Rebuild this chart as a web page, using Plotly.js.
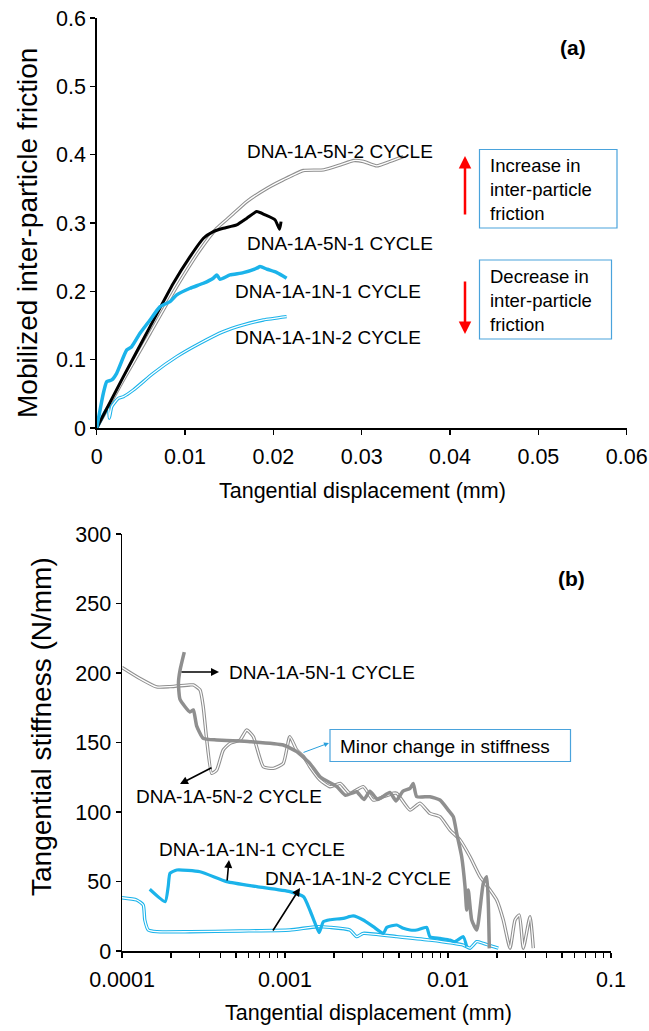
<!DOCTYPE html>
<html>
<head>
<meta charset="utf-8">
<script src="https://cdn.plot.ly/plotly-3.0.1.min.js"></script>
<style>html,body{margin:0;padding:0;background:#fff;}#chart{width:649px;height:1031px;}</style>
</head>
<body>
<div id="chart"></div>
<script>
// ---------- (a) Mobilized inter-particle friction vs tangential displacement ----------
const a5N2_x = [0, 0.00302, 0.00604, 0.00906, 0.0117, 0.0136, 0.0151, 0.0170, 0.0193, 0.0211, 0.0234, 0.0257, 0.0276, 0.0291, 0.0302, 0.0317, 0.0332, 0.0347];
const a5N2_y = [0, 0.0703, 0.1386, 0.2069, 0.2606, 0.2923, 0.3094, 0.3314, 0.3509, 0.3631, 0.3768, 0.3777, 0.3851, 0.3914, 0.390, 0.3836, 0.390, 0.3972];

const a5N1_x = [0, 0.00302, 0.00604, 0.00868, 0.01057, 0.01208, 0.0132, 0.01434, 0.01585, 0.0170, 0.01812, 0.01906, 0.0202, 0.0207, 0.02087];
const a5N1_y = [0, 0.0751, 0.1483, 0.2118, 0.2508, 0.2777, 0.2875, 0.2923, 0.2972, 0.307, 0.3167, 0.3119, 0.3045, 0.2909, 0.302];

const a1N1_x = [0, 0.00075, 0.00113, 0.0017, 0.00226, 0.0034, 0.00396, 0.0049, 0.00604, 0.00717, 0.0083, 0.00906, 0.01057, 0.01208, 0.0132, 0.0136, 0.01396, 0.0151, 0.0166, 0.01812, 0.0185, 0.0193, 0.0204, 0.0215];
const a1N1_y = [0, 0.0508, 0.0678, 0.0703, 0.0801, 0.1142, 0.119, 0.1386, 0.1581, 0.1776, 0.1849, 0.1947, 0.2045, 0.2118, 0.2192, 0.224, 0.2177, 0.224, 0.2274, 0.2338, 0.2362, 0.2323, 0.2274, 0.2192];

const a1N2_x = [0, 0.00132, 0.00143, 0.0017, 0.00245, 0.00302, 0.00415, 0.00641, 0.00906, 0.0117, 0.01434, 0.0166, 0.01887, 0.0215];
const a1N2_y = [0, 0.0312, 0.0142, 0.0312, 0.0435, 0.0458, 0.0556, 0.0801, 0.1044, 0.124, 0.141, 0.1508, 0.1581, 0.163];

// ---------- (b) Tangential stiffness vs tangential displacement (log x) ----------
const b5N1_x = [0.000241, 0.000227, 0.000222, 0.000227, 0.000261, 0.000274, 0.000287, 0.000315, 0.000381, 0.00061, 0.000976, 0.00118, 0.00142, 0.00164, 0.00208, 0.00235, 0.00275, 0.00305, 0.00332, 0.0037, 0.0044, 0.0048, 0.0053, 0.00585, 0.00612, 0.00643, 0.00775, 0.00893, 0.01004, 0.01078, 0.01131, 0.01213, 0.01272, 0.01302, 0.01332, 0.01398, 0.01501, 0.01647, 0.01728, 0.01767, 0.01793];
const b5N1_y = [215, 202, 193, 181, 172, 173.4, 162, 153, 151.8, 150.6, 148.2, 143.4, 135, 125.4, 118.2, 112, 114.6, 109, 115, 109, 114, 108, 115, 117, 120.6, 111, 111, 108.6, 101.4, 96.6, 84.7, 67.8, 46.3, 29.5, 43.9, 22.3, 15.1, 48.7, 53.5, 34.3, 1.9];

const b5N2_x = [0.0001, 0.000129, 0.000163, 0.000197, 0.000261, 0.000274, 0.000301, 0.000315, 0.000331, 0.000355, 0.000381, 0.000418, 0.00046, 0.00053, 0.000582, 0.000639, 0.000736, 0.000848, 0.000976, 0.00107, 0.00118, 0.0013, 0.00142, 0.00164, 0.00189, 0.00218, 0.0025, 0.00302, 0.00348, 0.00401, 0.00462, 0.00485, 0.00585, 0.00673, 0.00775, 0.00893, 0.01029, 0.01185, 0.01365, 0.01572, 0.01811, 0.0199, 0.02184, 0.02402, 0.02578, 0.02738, 0.02897, 0.03185, 0.03337];
const b5N2_y = [204, 196, 190, 190.2, 191.4, 191.4, 187.8, 175.8, 151.8, 127.8, 130.2, 144.6, 149.4, 151.8, 159, 154.2, 132.6, 131.4, 135, 154.2, 144.6, 139.8, 132.6, 123, 118.2, 120.6, 113.5, 118.2, 108.6, 111, 113.5, 113.5, 101.4, 106.3, 99, 96.6, 87, 79.9, 67.8, 53.5, 43.9, 36.7, 22.3, 2, 22.3, 25.9, 2, 24.7, 2];

const b1N1_x = [0.000148, 0.000184, 0.000192, 0.000197, 0.000217, 0.000301, 0.000439, 0.000671, 0.00107, 0.0013, 0.00142, 0.00153, 0.00162, 0.00172, 0.00189, 0.00228, 0.00262, 0.00302, 0.00348, 0.00401, 0.00421, 0.00485, 0.00532, 0.00585, 0.00643, 0.0074, 0.00775, 0.00893, 0.01029, 0.0110, 0.01241, 0.01302];
const b1N1_y = [44.4, 35.5, 46.3, 55.9, 58.3, 57, 49.9, 46.3, 42.7, 39, 29.5, 19.9, 13.2, 21.1, 22.5, 23.5, 25.2, 22.3, 17.5, 12.7, 17, 18.7, 16.3, 15.1, 15.1, 17, 10.3, 9.1, 7.9, 6.7, 10.3, 3.1];

const b1N2_x = [0.0001, 0.000123, 0.000135, 0.000138, 0.000145, 0.000163, 0.000261, 0.00053, 0.00107, 0.00156, 0.00189, 0.0025, 0.00275, 0.00302, 0.00485, 0.00775, 0.01241, 0.01365, 0.0150, 0.01647, 0.0190, 0.02035];
const b1N2_y = [38.3, 36.7, 33.1, 22.3, 15.1, 13.9, 13.9, 14.4, 15.1, 17.5, 17, 15.1, 10.3, 12.7, 10.3, 7.9, 4.3, 2, 6.7, 5.5, 3.1, 2];

// tick labels
const aXTicks = [0, 0.01, 0.02, 0.03, 0.04, 0.05, 0.06];
const aXTickText = ['0', '0.01', '0.02', '0.03', '0.04', '0.05', '0.06'];
const aYTicks = [0, 0.1, 0.2, 0.3, 0.4, 0.5, 0.6];
const aYTickText = ['0', '0.1', '0.2', '0.3', '0.4', '0.5', '0.6'];
const bXTicks = [0.0001,0.0002,0.0003,0.0004,0.0005,0.0006,0.0007,0.0008,0.0009,
                 0.001,0.002,0.003,0.004,0.005,0.006,0.007,0.008,0.009,
                 0.01,0.02,0.03,0.04,0.05,0.06,0.07,0.08,0.09,0.1];
const bXTickText = ['0.0001','','','','','','','','',
                    '0.001','','','','','','','','',
                    '0.01','','','','','','','','','0.1'];
const bYTicks = [0, 50, 100, 150, 200, 250, 300];

const seriesNames = ['DNA-1A-5N-2 CYCLE', 'DNA-1A-5N-1 CYCLE', 'DNA-1A-1N-1 CYCLE', 'DNA-1A-1N-2 CYCLE'];

// ---------- styling ----------
const W = 649, H = 1031;
const P = x => x / W;          // pixel -> paper x
const Q = y => 1 - y / H;      // pixel -> paper y
const FONT = 'Liberation Sans, Arial, sans-serif';
const GRAY = '#8f8f8f';
const BLUE = '#1bb3ea';
const sm = {shape: 'spline', smoothing: 0.5};

function dbl(x, y, color, xa, ya, name) {
  return [
    {x: x, y: y, xaxis: xa, yaxis: ya, mode: 'lines', name: name, hoverinfo: 'skip',
     line: Object.assign({color: color, width: 3.4}, sm)},
    {x: x, y: y, xaxis: xa, yaxis: ya, mode: 'lines', name: name, hoverinfo: 'skip',
     line: Object.assign({color: '#ffffff', width: 1.3}, sm)}
  ];
}
function solid(x, y, color, w, xa, ya, name) {
  return {x: x, y: y, xaxis: xa, yaxis: ya, mode: 'lines', name: name, hoverinfo: 'skip',
          line: Object.assign({color: color, width: w}, sm)};
}

const traces = [].concat(
  dbl(a5N2_x, a5N2_y, GRAY, 'x', 'y', seriesNames[0]),
  dbl(a1N2_x, a1N2_y, BLUE, 'x', 'y', seriesNames[3]),
  [solid(a5N1_x, a5N1_y, '#000000', 3, 'x', 'y', seriesNames[1]),
   solid(a1N1_x, a1N1_y, BLUE, 3.5, 'x', 'y', seriesNames[2])],
  dbl(b5N2_x, b5N2_y, GRAY, 'x2', 'y2', seriesNames[0]),
  dbl(b1N2_x, b1N2_y, BLUE, 'x2', 'y2', seriesNames[3]),
  [solid(b5N1_x, b5N1_y, GRAY, 3.5, 'x2', 'y2', seriesNames[1]),
   solid(b1N1_x, b1N1_y, BLUE, 3.2, 'x2', 'y2', seriesNames[2])]
);

const tickfont = {family: FONT, size: 21.5, color: '#000'};
const axBase = {showgrid: false, zeroline: false, showline: true, linecolor: '#000', linewidth: 1.5,
                ticks: 'outside', ticklen: 5, tickwidth: 1.2, tickcolor: '#000', tickfont: tickfont,
                tickmode: 'array', fixedrange: true};

function txt(text, x, y, opts) {
  return Object.assign({text: text, xref: 'paper', yref: 'paper', x: P(x), y: Q(y),
    xanchor: 'left', yanchor: 'middle', showarrow: false,
    font: {family: FONT, size: 19, color: '#000'}}, opts || {});
}
function arrow(x0, y0, x1, y1, color, width, size) {
  // tail (x0,y0) -> head (x1,y1), pixel coords
  return {text: '', xref: 'paper', yref: 'paper', x: P(x1), y: Q(y1), ax: x0 - x1, ay: y0 - y1,
          showarrow: true, arrowhead: 2, arrowsize: size || 1, arrowwidth: width, arrowcolor: color};
}

const annotations = [
  // (a)
  txt(seriesNames[0], 245, 151),
  txt(seriesNames[1], 245, 244),
  txt(seriesNames[2], 233, 291),
  txt(seriesNames[3], 233, 337),
  txt('<b>(a)</b>', 573, 48, {xanchor: 'center', font: {family: FONT, size: 21, color: '#000'}}),
  txt('Increase in<br>inter-particle<br>friction', 488, 189, {align: 'left', font: {family: FONT, size: 18.5, color: '#000'}}),
  txt('Decrease in<br>inter-particle<br>friction', 488, 300, {align: 'left', font: {family: FONT, size: 18.5, color: '#000'}}),
  arrow(465, 216, 465, 156, '#ff0000', 2.5, 1),
  arrow(465, 280, 465, 334, '#ff0000', 2.5, 1),
  txt('Tangential displacement (mm)', 362, 491, {xanchor: 'center', font: {family: FONT, size: 21.5, color: '#000'}}),
  txt('Mobilized inter-particle friction', 27, 233, {xanchor: 'center', textangle: -90, font: {family: FONT, size: 28, color: '#000'}}),
  // (b)
  txt(seriesNames[1], 227, 672),
  arrow(180, 672, 219, 672, '#000', 1.6, 1),
  txt(seriesNames[0], 134, 796),
  arrow(213, 767, 180, 784, '#000', 1.6, 1),
  txt('Minor change in stiffness', 338, 746),
  arrow(302, 753, 329, 743, '#2aa0dc', 1, 1),
  txt(seriesNames[2], 157, 849),
  arrow(227, 882, 229, 860, '#000', 1.6, 1),
  txt(seriesNames[3], 263, 878),
  arrow(272, 932, 300, 888, '#000', 1.6, 1),
  txt('<b>(b)</b>', 571, 578, {xanchor: 'center', font: {family: FONT, size: 21, color: '#000'}}),
  txt('Tangential displacement (mm)', 368, 1013, {xanchor: 'center', font: {family: FONT, size: 21.5, color: '#000'}}),
  txt('Tangential stiffness (N/mm)', 41, 727, {xanchor: 'center', textangle: -90, font: {family: FONT, size: 28, color: '#000'}})
];

const boxLine = {color: '#4aa3dc', width: 1.2};
const shapes = [
  {type: 'rect', xref: 'paper', yref: 'paper', x0: P(479.5), x1: P(617), y0: Q(149.5), y1: Q(228), line: boxLine, fillcolor: 'rgba(0,0,0,0)'},
  {type: 'rect', xref: 'paper', yref: 'paper', x0: P(479.5), x1: P(611.5), y0: Q(260), y1: Q(339), line: boxLine, fillcolor: 'rgba(0,0,0,0)'},
  {type: 'rect', xref: 'paper', yref: 'paper', x0: P(330), x1: P(570.5), y0: Q(729.5), y1: Q(761.5), line: boxLine, fillcolor: 'rgba(0,0,0,0)'}
];

const layout = {
  width: W, height: H,
  margin: {l: 0, r: 0, t: 0, b: 0},
  paper_bgcolor: '#fff', plot_bgcolor: '#fff',
  showlegend: false,
  font: {family: FONT, color: '#000'},
  xaxis: Object.assign({}, axBase, {domain: [P(96.7), P(626.7)], range: [0, 0.06], anchor: 'y',
         tickvals: aXTicks, ticktext: aXTickText, ticklabelstandoff: 4}),
  yaxis: Object.assign({}, axBase, {domain: [Q(428), Q(18)], range: [0, 0.6], anchor: 'x',
         tickvals: aYTicks, ticktext: aYTickText}),
  xaxis2: Object.assign({}, axBase, {type: 'log', domain: [P(122), P(611)], range: [-4, -1], anchor: 'y2',
         tickvals: bXTicks, ticktext: bXTickText, ticklabelstandoff: 4}),
  yaxis2: Object.assign({}, axBase, {domain: [Q(951), Q(534)], range: [0, 300], anchor: 'x2',
         tickvals: bYTicks, ticktext: bYTicks.map(String)}),
  annotations: annotations,
  shapes: shapes
};

Plotly.newPlot('chart', traces, layout, {staticPlot: true, displayModeBar: false});
</script>
</body>
</html>
